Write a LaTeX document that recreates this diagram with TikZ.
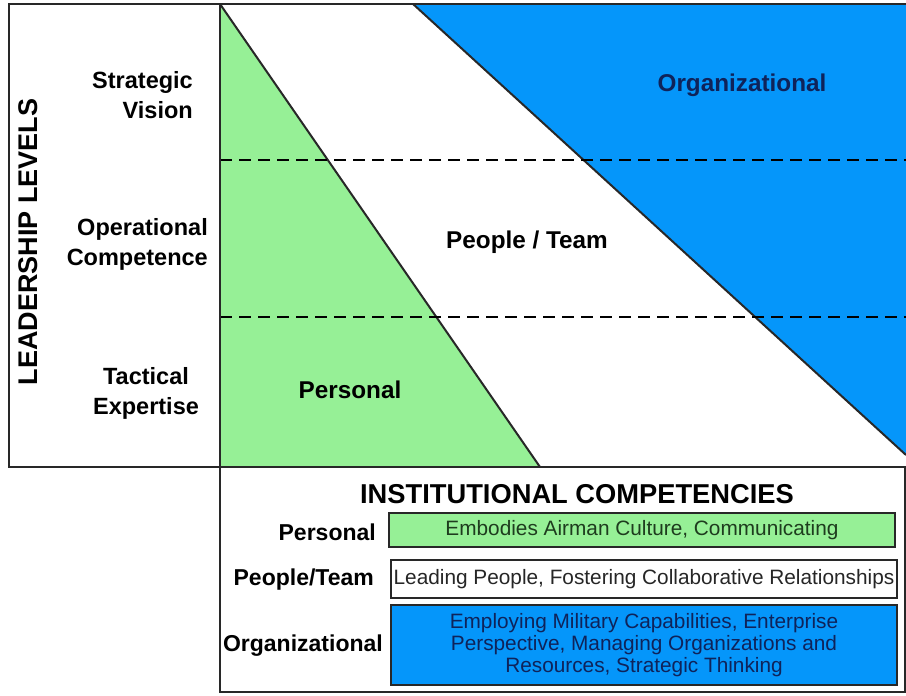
\documentclass[tikz,border=0pt]{standalone}
\usepackage{fontspec}
\setmainfont{Liberation Sans}
\definecolor{lgreen}{RGB}{150,240,150}
\definecolor{lblue}{RGB}{5,150,250}
\definecolor{navy}{RGB}{15,35,90}
\definecolor{dgreen}{RGB}{30,60,30}
\definecolor{frame}{RGB}{40,40,40}
\tikzset{
  frm/.style={draw=frame,line width=2pt},
  lbl/.style={font=\fontsize{23.5}{30}\selectfont\bfseries,text=black,inner sep=0pt},
  arealbl/.style={lbl,font=\fontsize{24.3}{29}\selectfont\bfseries},
  leglbl/.style={lbl,font=\fontsize{23}{28}\selectfont\bfseries,anchor=east},
  dashln/.style={draw=black,line width=2pt,dash pattern=on 12pt off 7pt},
  legbox/.style={draw=frame,line width=2pt,minimum width=506pt,inner sep=2pt,font=\fontsize{20.8}{22}\selectfont,align=center}
}
\begin{document}
\begin{tikzpicture}[x=1pt,y=-1pt]
\useasboundingbox (0,0) rectangle (906,696);
% shapes
\fill[lgreen] (220,4) -- (220,467) -- (540,467) -- cycle;
\fill[lblue] (413,4) -- (906,4) -- (906,455) -- cycle;
\draw[line width=2pt,draw=frame] (220,4) -- (540,467);
\draw[line width=2pt,draw=frame] (413,4) -- (906,455);
\draw[dashln] (220,160) -- (906,160);
\draw[dashln] (220,317) -- (906,317);
% frames
\draw[frm] (9,4) rectangle (220,467);
\draw[frm] (220,4) -- (906,4);
\draw[frm] (220,467) -- (906,467);
\draw[frm] (220,467) -- (220,692) -- (905,692) -- (905,467);
% left labels
\node[lbl,rotate=90,font=\fontsize{27}{30}\selectfont\bfseries] (ll) at (28,242) {LEADERSHIP LEVELS};
\node[lbl,align=right,anchor=east] (sv) at (193,95) {Strategic\\Vision};
\node[lbl,align=right,anchor=east] (oc) at (208,244) {Operational\\Competence};
\node[lbl,align=center] (te) at (146,393) {Tactical\\Expertise};
% area labels
\node[arealbl,text=navy] (org) at (742,85) {Organizational};
\node[arealbl] (pt) at (527,242) {People / Team};
\node[arealbl] (per) at (350,390) {Personal};
% legend
\node[lbl,font=\fontsize{27.3}{30}\selectfont\bfseries] (title) at (577,494) {INSTITUTIONAL COMPETENCIES};
\node[legbox,fill=lgreen,text=dgreen,minimum height=34pt] (gbox) at (642,530) {Embodies Airman Culture, Communicating};
\node[legbox,fill=white,text=black!85,minimum height=38pt] (wbox) at (644,579) {Leading People, Fostering Collaborative Relationships};
\node[legbox,fill=lblue,text=navy,minimum height=80pt] (bbox) at (644,645) {Employing Military Capabilities, Enterprise\\Perspective, Managing Organizations and\\Resources, Strategic Thinking};
\node[leglbl] (lp) at (376,532) {Personal};
\node[leglbl] (lt) at (374,580) {People/Team};
\node[leglbl] (lo) at (383,646) {Organizational};
\end{tikzpicture}
\end{document}
